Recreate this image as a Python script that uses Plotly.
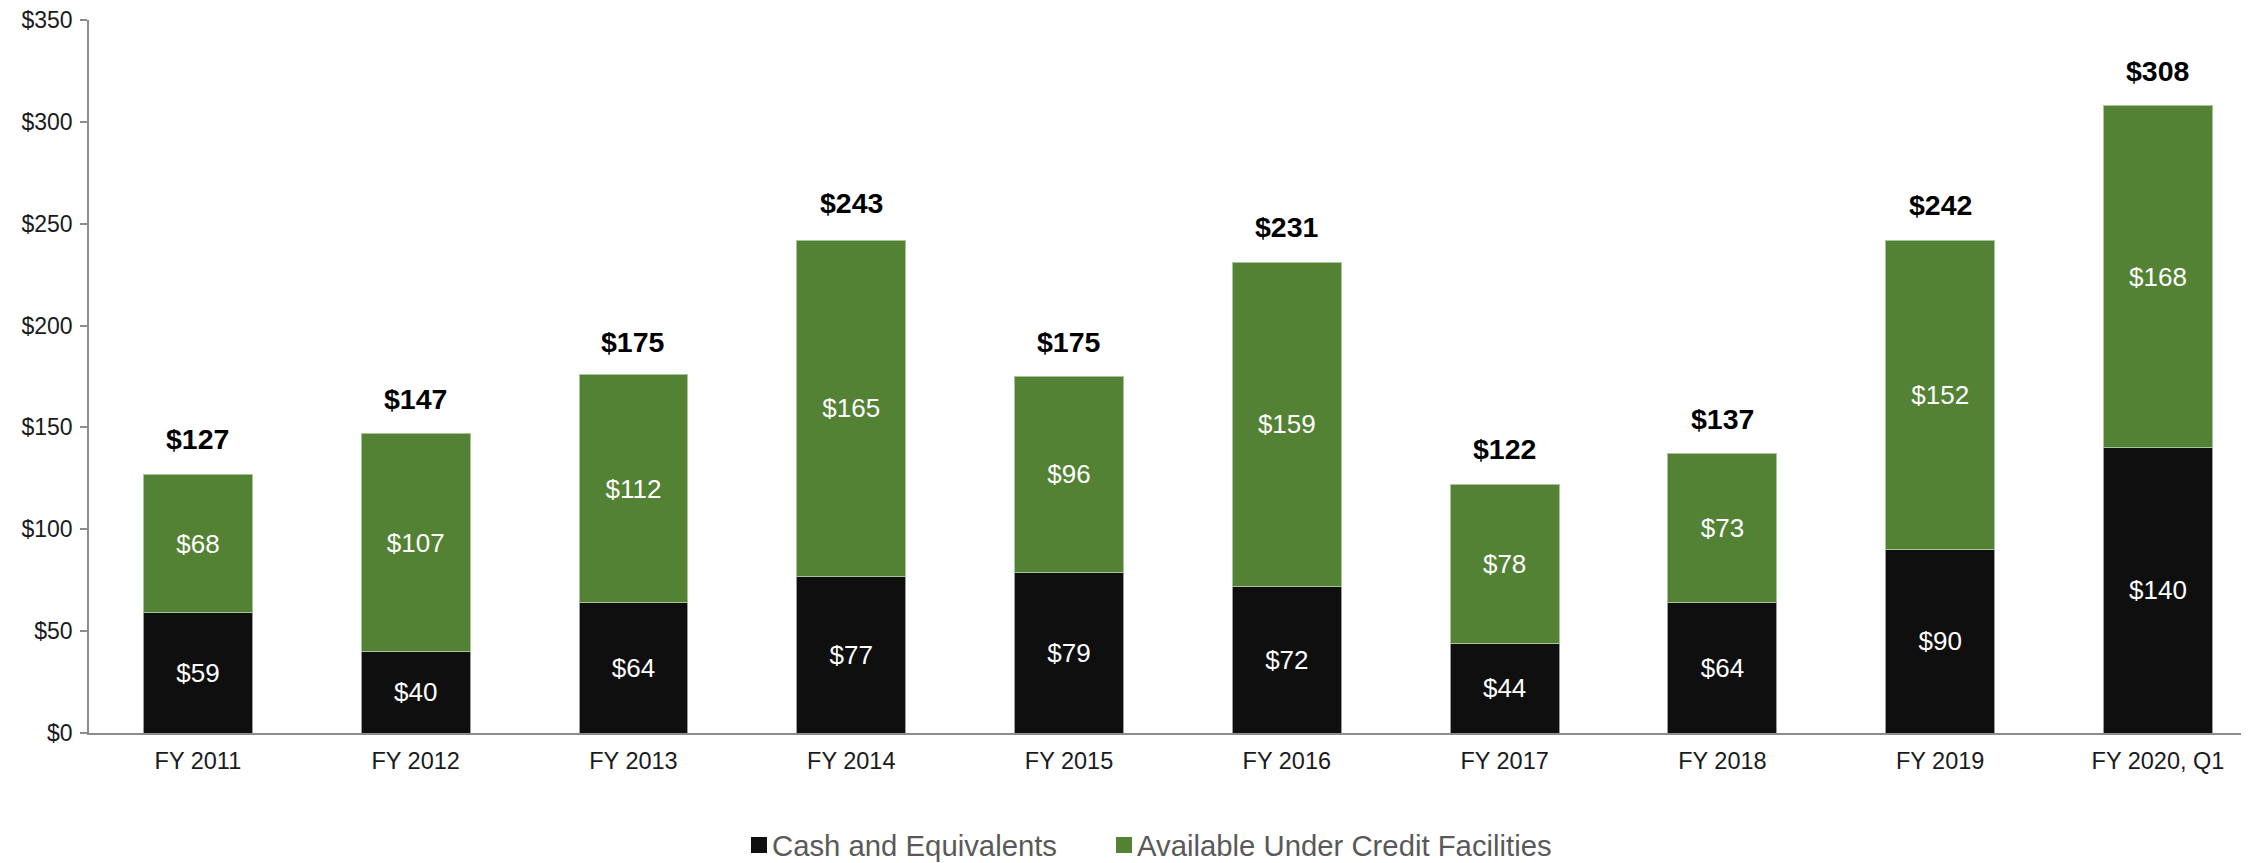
import plotly.graph_objects as go

categories = ["FY 2011", "FY 2012", "FY 2013", "FY 2014", "FY 2015",
              "FY 2016", "FY 2017", "FY 2018", "FY 2019", "FY 2020, Q1"]
cash = [59, 40, 64, 77, 79, 72, 44, 64, 90, 140]
credit = [68, 107, 112, 165, 96, 159, 78, 73, 152, 168]
totals = [127, 147, 175, 243, 175, 231, 122, 137, 242, 308]
y_ticks = [0, 50, 100, 150, 200, 250, 300, 350]
series_names = ["Cash and Equivalents", "Available Under Credit Facilities"]

FONT = "Liberation Sans, Arial, sans-serif"
BLACK = "#0f0f0f"
GREEN = "#548235"

# page is 2249x863; the browser body adds an 8px offset to the figure
OFF = 8
PAGE_W, PAGE_H = 2249, 863
W, H = PAGE_W - OFF, PAGE_H - OFF
PLOT_L, PLOT_T, PLOT_B = 89, 20, 733          # page pixel positions
ML, MT = PLOT_L - OFF, PLOT_T - OFF
MR = 0
MB = H - (PLOT_B - OFF)
PW, PH = W - ML - MR, H - MT - MB


def px_x(p):  # page px -> paper
    return (p - OFF - ML) / PW


def px_y(p):
    return ((PLOT_B - OFF) - (p - OFF)) / PH


fig = go.Figure()
fig.add_trace(go.Bar(
    x=categories, y=cash, name=series_names[0],
    marker=dict(color=BLACK, line=dict(color="#9a9a9a", width=1)),
    width=0.5,
    texttemplate="$%{y}", textposition="inside", insidetextanchor="middle",
    textangle=0,
    textfont=dict(color="white", size=26, family=FONT),
))
fig.add_trace(go.Bar(
    x=categories, y=credit, name=series_names[1],
    marker=dict(color=GREEN, line=dict(color="#a9c49a", width=1)),
    width=0.5,
    texttemplate="$%{y}", textposition="inside", insidetextanchor="middle",
    textangle=0,
    textfont=dict(color="white", size=26, family=FONT),
))

for c, t in zip(categories, totals):
    fig.add_annotation(x=c, y=t, text=f"<b>${t}</b>", showarrow=False,
                       yanchor="middle", yshift=35,
                       font=dict(size=28.5, color="black", family=FONT))

# legend: square swatch + label
legend_items = [(series_names[0], BLACK, 751), (series_names[1], GREEN, 1116)]
LEG_Y = 845
for name, col, sx in legend_items:
    fig.add_shape(type="rect", xref="paper", yref="paper",
                  x0=px_x(sx), x1=px_x(sx + 16),
                  y0=px_y(LEG_Y + 8), y1=px_y(LEG_Y - 8),
                  fillcolor=col, line=dict(width=0))
    fig.add_annotation(xref="paper", yref="paper", x=px_x(sx + 20), y=px_y(LEG_Y),
                       xanchor="left", yanchor="middle", showarrow=False,
                       borderpad=0,
                       text=name, font=dict(size=29.3, color="#595959", family=FONT))

fig.update_layout(
    barmode="stack",
    width=W, height=H,
    margin=dict(l=ML, r=MR, t=MT, b=MB, pad=0, autoexpand=False),
    paper_bgcolor="white", plot_bgcolor="white",
    font=dict(family=FONT, size=23, color="#1a1a1a"),
    showlegend=False,
    xaxis=dict(range=[-0.5, 9.418], showline=True, linecolor="#8c8c8c",
               linewidth=1.5, ticks="", showgrid=False, automargin=False,
               ticklabeloverflow="allow",
               tickfont=dict(size=23.5, color="#1a1a1a"), ticklabelstandoff=6),
    yaxis=dict(range=[0, 350], tickvals=y_ticks,
               ticktext=[f"${v}" for v in y_ticks],
               showline=True, linecolor="#8c8c8c", linewidth=1.5,
               ticks="outside", ticklen=7, tickcolor="#8c8c8c", tickwidth=1.5,
               showgrid=False, zeroline=False, automargin=False,
               ticklabeloverflow="allow",
               tickfont=dict(size=23, color="#1a1a1a"), ticklabelstandoff=3),
)

fig.write_html("out.html")
